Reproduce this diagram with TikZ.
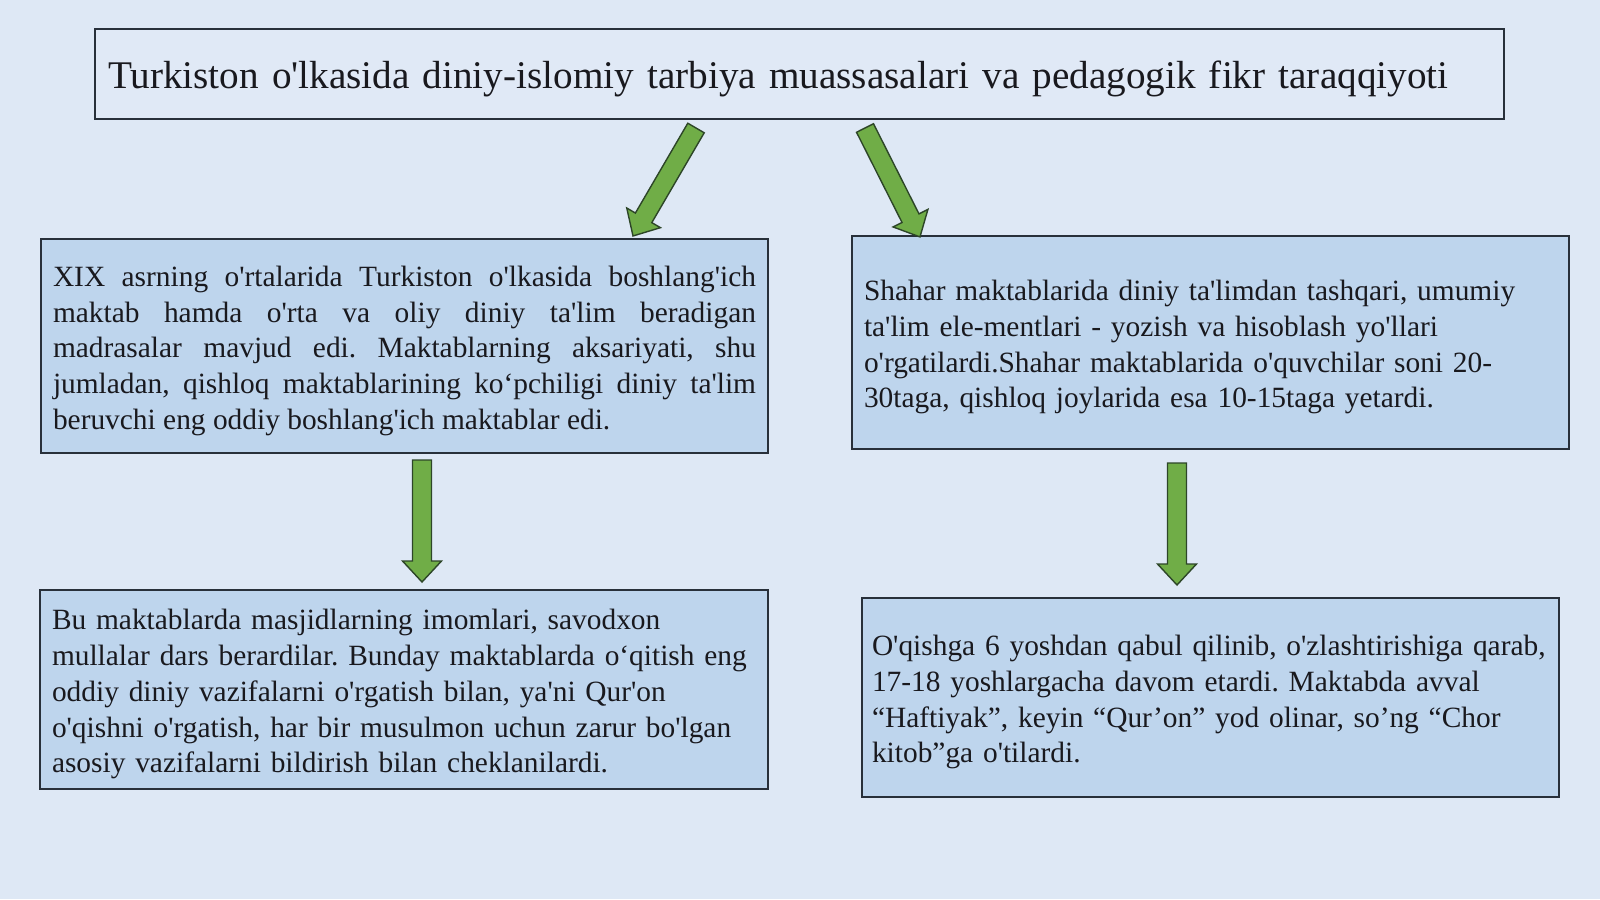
\documentclass[tikz,border=0pt]{standalone}
\usepackage{fontspec}
\newfontfamily\uzfont{Liberation Serif}
\usetikzlibrary{calc}
\definecolor{bgblue}{RGB}{222,232,245}
\definecolor{titlefill}{RGB}{224,233,246}
\definecolor{boxblue}{RGB}{190,213,237}
\definecolor{arrgreen}{RGB}{112,173,71}
\definecolor{arrline}{RGB}{45,70,40}
\definecolor{edgegray}{RGB}{40,48,58}
\definecolor{inkblack}{RGB}{25,25,30}

\tikzset{
  textbox/.style={draw=edgegray, line width=0.8pt, fill=boxblue, anchor=north west,
    inner xsep=6pt, inner ysep=0pt, outer sep=0pt, text=inkblack,
    font=\uzfont\fontsize{14.7}{17.85}\selectfont,
    execute at begin node={\rule{0pt}{15pt}}},
  titlebox/.style={draw=edgegray, line width=0.7pt, fill=titlefill, anchor=north west,
    inner xsep=6.5pt, inner ysep=0pt, outer sep=0pt, text=inkblack,
    font=\uzfont\fontsize{19.6}{24}\selectfont,
    execute at begin node={\rule{0pt}{18.5pt}}},
  greenarrow/.style={draw=arrline, fill=arrgreen, line width=0.7pt, line join=miter}
}

% block arrow from #1 (tail) to #2 (tip)
\newcommand{\fatarrow}[2]{%
  \draw[greenarrow] let \p1=($(#2)-(#1)$), \n1={atan2(\y1,\x1)}, \n2={veclen(\x1,\y1)} in
    [shift={(#1)}, rotate=\n1]
    (0pt,-4.75pt) -- ({\n2*1pt-10.5pt},-4.75pt) -- ({\n2*1pt-10.5pt},-9.75pt)
    -- ({\n2*1pt},0pt) -- ({\n2*1pt-10.5pt},9.75pt) -- ({\n2*1pt-10.5pt},4.75pt)
    -- (0pt,4.75pt) -- cycle;}

\begin{document}
\frenchspacing\hyphenpenalty=10000\exhyphenpenalty=10000
\begin{tikzpicture}[x=0.5pt, y=0.5pt]
  \fill[bgblue] (0,0) rectangle (1600,-899);
  \useasboundingbox (0,0) rectangle (1600,-899);

  % title
  \node[titlebox, text width=691.5pt, minimum height=45pt, align=left] (title) at (95,-29)
    {Turkiston o'lkasida diniy-islomiy tarbiya muassasalari va pedagogik fikr taraqqiyoti};

  % upper boxes
  \node[textbox, text width=351.5pt, minimum height=107pt, align=justify] (maktab) at (41,-239)
    {XIX asrning o'rtalarida Turkiston o'lkasida boshlang'ich\linebreak
     maktab hamda o'rta va oliy diniy ta'lim beradigan\linebreak
     madrasalar mavjud edi. Maktablarning aksariyati, shu\linebreak
     jumladan, qishloq maktablarining ko‘pchiligi diniy ta'lim\linebreak
     beruvchi eng oddiy boshlang'ich maktablar edi.};
  \node[textbox, text width=346.5pt, minimum height=106.5pt, align=left] (shahar) at (852,-236)
    {Shahar maktablarida diniy ta'limdan tashqari, umumiy\\
     ta'lim ele-mentlari - yozish va hisoblash yo'llari\\
     o'rgatilardi.Shahar maktablarida o'quvchilar soni 20-\\
     30taga, qishloq joylarida esa 10-15taga yetardi.};

  % lower boxes
  \node[textbox, text width=352pt, minimum height=99.5pt, align=left] (imom) at (40,-590)
    {Bu maktablarda masjidlarning imomlari, savodxon\\
     mullalar dars berardilar. Bunday maktablarda o‘qitish eng\\
     oddiy diniy vazifalarni o'rgatish bilan, ya'ni Qur'on\\
     o'qishni o'rgatish, har bir musulmon uchun zarur bo'lgan\\
     asosiy vazifalarni bildirish bilan cheklanilardi.};
  \node[textbox, inner xsep=5pt, text width=338.5pt, minimum height=99.5pt, align=left] (yosh) at (862,-598)
    {O'qishga 6 yoshdan qabul qilinib, o'zlashtirishiga qarab,\\
     17-18 yoshlargacha davom etardi. Maktabda avval\\
     “Haftiyak”, keyin “Qur’on” yod olinar, so’ng “Chor\\
     kitob”ga o'tilardi.};

  % arrows
  \coordinate (tl) at (696,-128);
  \coordinate (tlend) at (633,-236);
  \coordinate (tr) at (865,-128);
  \coordinate (trend) at (920,-237);
  \coordinate (dl) at (422,-460);
  \coordinate (dlend) at (422,-582);
  \coordinate (dr) at (1177,-463);
  \coordinate (drend) at (1177,-585);
  \fatarrow{tl}{tlend}
  \fatarrow{tr}{trend}
  \fatarrow{dl}{dlend}
  \fatarrow{dr}{drend}
\end{tikzpicture}
\end{document}
